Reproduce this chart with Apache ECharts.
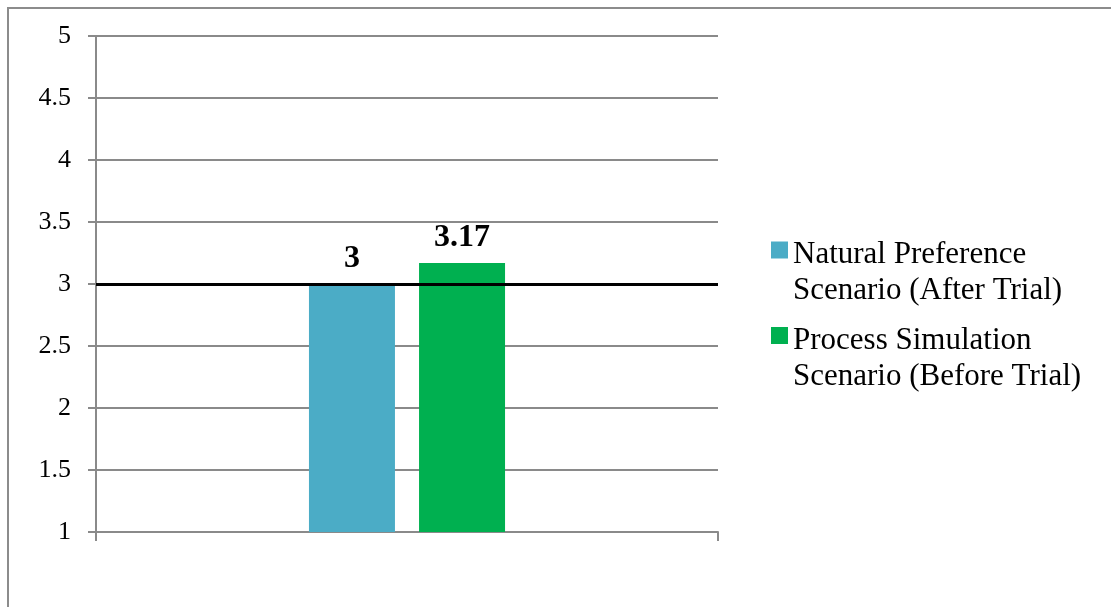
<!DOCTYPE html>
<html>
<head>
<meta charset="utf-8">
<script src="https://cdn.jsdelivr.net/npm/echarts@6/dist/echarts.min.js"></script>
<style>
  html, body { margin: 0; padding: 0; background: #fff; }
  #chart { width: 1111px; height: 607px; }
</style>
</head>
<body>
<div id="chart"></div>
<script>
// Mean ratings per scenario
const categories = [''];
const seriesNames = [
  'Natural Preference\nScenario (After Trial)',
  'Process Simulation\nScenario (Before Trial)'
];
const naturalPreference = [3];
const processSimulation = [3.17];
const referenceLevel = 3;
const yMin = 1, yMax = 5, yStep = 0.5;

const serif = '"Liberation Serif", "Times New Roman", serif';
const gridGray = '#8a8a8a';

const chart = echarts.init(document.getElementById('chart'));

const labelStyle = {
  show: true,
  position: 'top',
  distance: 9,
  color: '#000',
  fontFamily: serif,
  fontWeight: 'bold',
  fontSize: 32
};

chart.setOption({
  animation: false,
  backgroundColor: '#fff',
  graphic: [{
    type: 'rect',
    shape: { x: 8, y: 8, width: 1200, height: 700 },
    style: { fill: 'none', stroke: '#8c8c8c', lineWidth: 2 },
    silent: true
  }],
  grid: { left: 96, right: 393, top: 36, bottom: 75 },
  legend: {
    orient: 'vertical',
    left: 771,
    top: 209,
    padding: 0,
    itemWidth: 17,
    itemHeight: 17,
    itemGap: -12,
    icon: 'rect',
    selectedMode: false,
    // a taller blank first line keeps the swatch level with the first text line
    formatter: name => '{pad| }\n' + name.split('\n').map(s => '{t|' + s + '}').join('\n'),
    textStyle: {
      color: '#000',
      fontFamily: serif,
      fontSize: 31,
      rich: {
        pad: { lineHeight: 46, fontSize: 10 },
        t: { color: '#000', fontFamily: serif, fontSize: 31, lineHeight: 36 }
      }
    },
    data: seriesNames
  },
  xAxis: {
    type: 'category',
    data: categories,
    axisLine: { show: true, lineStyle: { color: gridGray, width: 2 } },
    axisTick: { show: true, length: 9, lineStyle: { color: gridGray, width: 2 } },
    axisLabel: { show: false }
  },
  yAxis: {
    type: 'value',
    min: yMin,
    max: yMax,
    interval: yStep,
    axisLine: { show: true, lineStyle: { color: gridGray, width: 2 } },
    axisTick: { show: true, length: 8, lineStyle: { color: gridGray, width: 2 } },
    axisLabel: {
      color: '#000',
      fontFamily: serif,
      fontSize: 26,
      margin: 25,
      formatter: v => String(v)
    },
    splitLine: { show: true, lineStyle: { color: gridGray, width: 2 } }
  },
  series: [
    {
      name: seriesNames[0],
      type: 'bar',
      data: naturalPreference,
      barWidth: 86,
      barGap: '28%',
      itemStyle: { color: '#4bacc6' },
      label: labelStyle,
      markLine: {
        silent: true,
        symbol: 'none',
        label: { show: false },
        lineStyle: { color: '#000', width: 3, type: 'solid' },
        data: [{ yAxis: referenceLevel }]
      },
      z: 2
    },
    {
      name: seriesNames[1],
      type: 'bar',
      data: processSimulation,
      barWidth: 86,
      itemStyle: { color: '#00b050' },
      label: labelStyle,
      z: 2
    }
  ]
});
</script>
</body>
</html>
